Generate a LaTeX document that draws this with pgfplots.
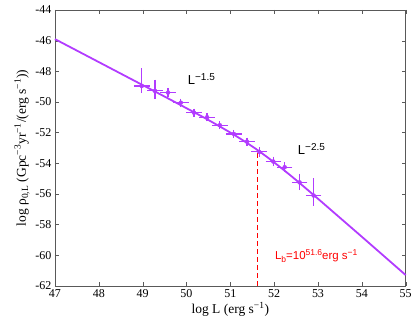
\documentclass[border=0pt]{standalone}
\usepackage{pgfplots}
\pgfplotsset{compat=1.18}
\usepackage{fontspec}
\setmainfont{Liberation Serif}
\newfontfamily\helv{Liberation Sans}
\definecolor{lpurple}{RGB}{178,60,255}
\definecolor{lred}{RGB}{255,0,0}
\newcommand{\sups}[1]{\raisebox{0.6ex}{\fontsize{10}{11}\selectfont #1}}
\newcommand{\rsup}[1]{\raisebox{0.6ex}{\fontsize{8.5}{9}\selectfont #1}}
\begin{document}
\begin{tikzpicture}
\begin{axis}[
  scale only axis, width=351pt, height=276pt,
  xmin=47, xmax=55, ymin=-62, ymax=-44,
  xtick={47,48,...,55}, ytick={-62,-60,...,-44},
  tick align=inside, minor tick num=0,
  axis line style={black!65},
  tick style={black!65},
  major tick length=4pt,
  /pgf/number format/assume math mode=true,
  xticklabel style={font=\rmfamily\fontsize{12}{13}\selectfont},
  yticklabel style={font=\rmfamily\fontsize{12}{13}\selectfont},
  label style={font=\rmfamily\fontsize{13.5}{15}\selectfont},
  xlabel={log L (erg s\textsuperscript{−1})},
  ylabel={log ρ\textsubscript{0,L} (Gpc\textsuperscript{−3}yr\textsuperscript{−1}/(erg s\textsuperscript{−1}))},
  xlabel style={yshift=2pt},
  ylabel style={yshift=-1pt},
  clip=false,
]
\addplot[lpurple, line width=1.8pt, smooth] coordinates {
(47,-45.90) (48,-47.40) (49,-48.90) (49.5,-49.65) (50,-50.41) (50.5,-51.18)
(51,-52.00) (51.3,-52.53) (51.6,-53.10) (51.9,-53.73) (52.2,-54.40)
(52.5,-55.10) (53,-56.32) (53.5,-57.56) (54,-58.80) (54.5,-60.05) (55,-61.30)
};
\addplot[draw=lred, line width=1.5pt, dash pattern=on 5pt off 3pt] coordinates {(51.622,-62) (51.622,-53.13)};
\addplot[lpurple, only marks, mark=*, mark size=2pt,
  error bars/.cd, x dir=both, x explicit, y dir=both, y explicit,
  error bar style={draw=lpurple, line width=1.2pt},
  error mark options={draw=lpurple, mark size=2.5pt, line width=1.2pt}] coordinates {
(48.98,-48.96) += (0.12,1.0) -= (0.12,0.3)
(49.28,-49.28) += (0.12,0.57) -= (0.12,0.37)
(49.58,-49.39) += (0.12,0.15) -= (0.12,0.15)
(49.87,-50.05) += (0.12,0.1) -= (0.12,0.1)
(50.17,-50.70) += (0.12,0.1) -= (0.12,0.1)
(50.47,-51.00) += (0.12,0.1) -= (0.12,0.1)
(50.76,-51.52) += (0.12,0.1) -= (0.12,0.1)
(51.08,-52.09) += (0.12,0.1) -= (0.12,0.1)
(51.38,-52.59) += (0.12,0.1) -= (0.12,0.1)
(51.66,-53.26) += (0.12,0.15) -= (0.12,0.15)
(51.98,-53.89) += (0.12,0.15) -= (0.12,0.15)
(52.24,-54.26) += (0.12,0.15) -= (0.12,0.15)
(52.58,-55.25) += (0.12,0.4) -= (0.12,0.35)
(52.90,-56.11) += (0.12,0.98) -= (0.12,0.5)
};
\node[font=\helv\fontsize{13}{14}\selectfont] at (axis cs:50.34,-48.5) {L\sups{−1.5}};
\node[font=\helv\fontsize{13}{14}\selectfont] at (axis cs:52.85,-53.08) {L\sups{−2.5}};
\node[font=\helv\fontsize{11.5}{12}\selectfont, text=lred] at (axis cs:52.96,-60.08) {L\raisebox{-0.5ex}{\fontsize{8.5}{9}\selectfont b}=10\rsup{51.6}erg s\rsup{−1}};
\end{axis}
\path (-55pt,-38pt) rectangle (360pt,286pt);
\end{tikzpicture}
\end{document}
